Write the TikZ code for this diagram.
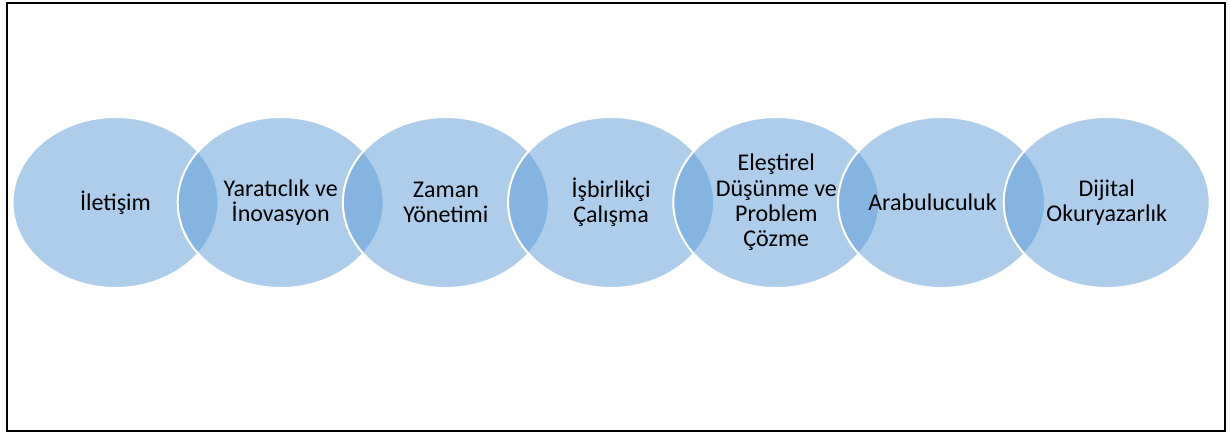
\documentclass[tikz,border=0pt]{standalone}
\usepackage{fontspec}
\setmainfont{Carlito}
\usepackage{xcolor}
\usepackage{tikz}
\usetikzlibrary{positioning}
\usetikzlibrary{shapes.geometric}
\definecolor{vurgu}{HTML}{5B9BD5}
\tikzset{
    beceri/.style = {ellipse, draw=white, line width=2pt, on grid,
        fill=vurgu, fill opacity=0.5, text opacity=1,
        minimum width=206pt, minimum height=171pt, inner sep=0pt,
        align=center, font=\fontsize{24pt}{25.4pt}\selectfont},
    cerceve/.style = {draw=black, line width=2.5pt}
}

\begin{document}
\begin{tikzpicture}[x=1pt, y=-1pt, node distance=165.2pt]
                \useasboundingbox (0,0) rectangle (1231,436);
                \draw[cerceve] (7,3) rectangle (1225,431);
                \node (A) [beceri] at (115.5,202.5) {İletişim};
                \node (B) [beceri, right=of A] {Yaratıclık ve\\İnovasyon};
                \node (C) [beceri, right=of B] {Zaman\\Yönetimi};
                \node (D) [beceri, right=of C] {İşbirlikçi\\Çalışma};
                \node (E) [beceri, right=of D] {Eleştirel\\Düşünme ve\\Problem\\Çözme};
                \node (F) [beceri, right=of E] {Arabuluculuk\hspace*{18pt}};
                \node (G) [beceri, right=of F] {Dijital\\Okuryazarlık};
            \end{tikzpicture}
\end{document}
